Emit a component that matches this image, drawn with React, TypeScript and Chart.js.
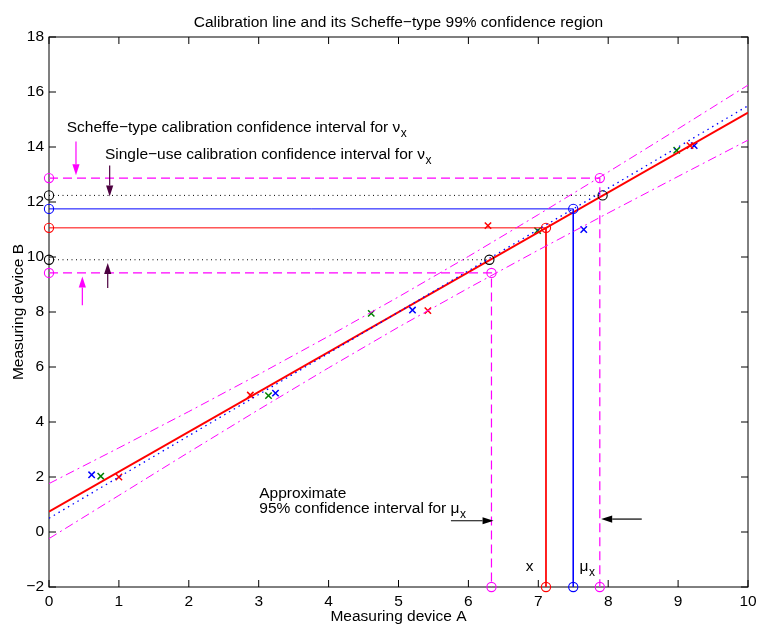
import React, { useEffect, useRef } from 'react';
import { Chart, registerables } from 'chart.js';

Chart.register(...registerables);

const FONT = '"Liberation Sans", Arial, Helvetica, sans-serif';
const FS = 15.5;

// ---------- text ----------
const titleText = 'Calibration line and its Scheffe\u2212type 99% confidence region';
const xLabel = 'Measuring device A';
const yLabel = 'Measuring device B';

// ---------- ticks ----------
const xTicks = [0, 1, 2, 3, 4, 5, 6, 7, 8, 9, 10];
const yTicks = [-2, 0, 2, 4, 6, 8, 10, 12, 14, 16, 18];

// ---------- lines ----------
const fitX = [0, 10];
const fitY = [0.74, 15.25];
const trueX = [0, 10];
const trueY = [0.5, 15.5];

const bandX = [0, 1, 2, 3, 4, 5, 6, 7, 8, 9, 10];
const bandUpper = [1.76, 3.06, 4.38, 5.73, 7.12, 8.55, 10.02, 11.54, 13.09, 14.66, 16.25];
const bandLower = [-0.24, 1.33, 2.9, 4.45, 5.97, 7.45, 8.87, 10.25, 11.6, 12.93, 14.25];

// ---------- measurements ----------
const redX = [1.0, 2.88, 5.42, 6.28, 9.17];
const redY = [2.0, 4.98, 8.05, 11.14, 14.05];
const greenX = [0.74, 3.14, 4.61, 6.99, 8.98];
const greenY = [2.03, 4.96, 7.95, 10.96, 13.88];
const blueX = [0.61, 3.24, 5.2, 7.65, 9.23];
const blueY = [2.08, 5.05, 8.07, 11.0, 14.05];

// ---------- interval construction ----------
const scheffeLevelY = [9.42, 12.87];
const scheffeLevelX = [6.33, 7.88];
const singleLevelY = [9.9, 12.24];
const singleLevelX = [6.3, 7.92];
const observedY = 11.06;
const observedX = 7.11;
const muY = 11.75;
const muX = 7.5;
const X_MIN = 0, X_MAX = 10, Y_MIN = -2, Y_MAX = 18;

// ---------- annotations (data coordinates) ----------
const noteText = [
  'Scheffe\u2212type calibration confidence interval for \u03bd',
  'Single\u2212use calibration confidence interval for \u03bd',
  'Approximate',
  '95% confidence interval for \u03bc',
  'x',
  '\u03bc',
];
const noteSub = ['x', 'x', '', 'x', '', 'x'];
const noteX = [0.253, 0.8, 3.008, 3.008, 6.82, 7.59];
const noteY = [14.56, 13.57, 1.24, 0.68, -1.41, -1.41];

const arrowFromX = [0.386, 0.868, 0.477, 0.84, 5.75, 8.48];
const arrowFromY = [14.2, 13.33, 8.25, 8.87, 0.41, 0.47];
const arrowToX = [0.386, 0.868, 0.477, 0.84, 6.36, 7.9];
const arrowToY = [12.97, 12.2, 9.29, 9.78, 0.41, 0.47];
const arrowColor = ['#ff00ff', '#4d0040', '#ff00ff', '#4d0040', '#000000', '#000000'];

const pts = (xs: number[], ys: number[]) => xs.map((x, i) => ({ x, y: ys[i] }));

const framePlugin = {
  id: 'frame',
  beforeDatasetsDraw(chart: any) {
    const { ctx, chartArea } = chart;
    const { left, top, right, bottom } = chartArea;
    const xs = chart.scales.x;
    const ys = chart.scales.y;
    ctx.save();
    ctx.strokeStyle = '#000';
    ctx.lineWidth = 1;
    ctx.strokeRect(left, top, right - left, bottom - top);
    const tl = 7;
    ctx.beginPath();
    xs.ticks.forEach((t: any) => {
      const p = xs.getPixelForValue(t.value);
      ctx.moveTo(p, bottom);
      ctx.lineTo(p, bottom - tl);
      ctx.moveTo(p, top);
      ctx.lineTo(p, top + tl);
    });
    ys.ticks.forEach((t: any) => {
      const p = ys.getPixelForValue(t.value);
      ctx.moveTo(left, p);
      ctx.lineTo(left + tl, p);
      ctx.moveTo(right, p);
      ctx.lineTo(right - tl, p);
    });
    ctx.stroke();
    ctx.restore();
  },
};

const notesPlugin = {
  id: 'notes',
  afterDatasetsDraw(chart: any) {
    const { ctx } = chart;
    const xs = chart.scales.x;
    const ys = chart.scales.y;
    ctx.save();
    ctx.fillStyle = '#000';
    ctx.textAlign = 'left';
    ctx.textBaseline = 'alphabetic';
    noteText.forEach((txt, i) => {
      const px = xs.getPixelForValue(noteX[i]);
      const py = ys.getPixelForValue(noteY[i]);
      ctx.font = `${FS}px ${FONT}`;
      ctx.fillText(txt, px, py);
      if (noteSub[i]) {
        const w = ctx.measureText(txt).width;
        ctx.font = `12px ${FONT}`;
        ctx.fillText(noteSub[i], px + w + 0.5, py + 5);
      }
    });
    arrowFromX.forEach((_, i) => {
      const x0 = xs.getPixelForValue(arrowFromX[i]);
      const y0 = ys.getPixelForValue(arrowFromY[i]);
      const x1 = xs.getPixelForValue(arrowToX[i]);
      const y1 = ys.getPixelForValue(arrowToY[i]);
      const ang = Math.atan2(y1 - y0, x1 - x0);
      const hl = 11, hw = 3.6;
      ctx.strokeStyle = arrowColor[i];
      ctx.fillStyle = arrowColor[i];
      ctx.lineWidth = 1.2;
      ctx.beginPath();
      ctx.moveTo(x0, y0);
      ctx.lineTo(x1 - Math.cos(ang) * hl, y1 - Math.sin(ang) * hl);
      ctx.stroke();
      ctx.beginPath();
      ctx.moveTo(x1, y1);
      ctx.lineTo(x1 - Math.cos(ang) * hl - Math.sin(ang) * hw, y1 - Math.sin(ang) * hl + Math.cos(ang) * hw);
      ctx.lineTo(x1 - Math.cos(ang) * hl + Math.sin(ang) * hw, y1 - Math.sin(ang) * hl - Math.cos(ang) * hw);
      ctx.closePath();
      ctx.fill();
    });
    ctx.restore();
  },
};

export default function App() {
  const ref = useRef<HTMLCanvasElement | null>(null);

  useEffect(() => {
    if (!ref.current) return;
    const magenta = '#ff00ff';
    const circle = (color: string, dash: number[], width: number, data: any[]) => ({
      data,
      showLine: true,
      borderColor: color,
      borderWidth: width,
      borderDash: dash,
      backgroundColor: 'rgba(0,0,0,0)',
      pointStyle: 'circle',
      pointRadius: 4.6,
      pointBorderWidth: 1.1,
      pointBorderColor: color,
      pointBackgroundColor: 'rgba(0,0,0,0)',
      clip: false,
      tension: 0,
    });
    const line = (color: string, dash: number[], width: number, data: any[]) => ({
      data,
      showLine: true,
      borderColor: color,
      borderWidth: width,
      borderDash: dash,
      pointRadius: 0,
      fill: false,
      tension: 0,
    });
    const marks = (color: string, data: any[]) => ({
      data,
      showLine: false,
      pointStyle: 'crossRot',
      pointRadius: 4.5,
      pointBorderWidth: 1.5,
      pointBorderColor: color,
      borderColor: color,
      backgroundColor: color,
    });

    const chart = new Chart(ref.current, {
      type: 'scatter',
      data: {
        datasets: [
          line('#0000ff', [1.5, 4], 1.3, pts(trueX, trueY)),
          line(magenta, [9, 4, 2, 4], 1, pts(bandX, bandUpper)),
          line(magenta, [9, 4, 2, 4], 1, pts(bandX, bandLower)),
          circle(magenta, [9, 5], 1.2, [
            { x: X_MIN, y: scheffeLevelY[0] },
            { x: scheffeLevelX[0], y: scheffeLevelY[0] },
            { x: scheffeLevelX[0], y: Y_MIN },
          ]),
          circle(magenta, [9, 5], 1.2, [
            { x: X_MIN, y: scheffeLevelY[1] },
            { x: scheffeLevelX[1], y: scheffeLevelY[1] },
            { x: scheffeLevelX[1], y: Y_MIN },
          ]),
          circle('#000000', [1, 3.5], 1, [
            { x: X_MIN, y: singleLevelY[0] },
            { x: singleLevelX[0], y: singleLevelY[0] },
          ]),
          circle('#000000', [1, 3.5], 1, [
            { x: X_MIN, y: singleLevelY[1] },
            { x: singleLevelX[1], y: singleLevelY[1] },
          ]),
          circle('#0000ff', [], 1, [
            { x: X_MIN, y: muY },
            { x: muX, y: muY },
            { x: muX, y: Y_MIN },
          ]),
          circle('#ff0000', [], 1, [
            { x: X_MIN, y: observedY },
            { x: observedX, y: observedY },
            { x: observedX, y: Y_MIN },
          ]),
          line('#ff0000', [], 1.8, pts(fitX, fitY)),
          marks('#ff0000', pts(redX, redY)),
          marks('#008000', pts(greenX, greenY)),
          marks('#0000ff', pts(blueX, blueY)),
        ] as any,
      },
      options: {
        animation: false,
        responsive: false,
        maintainAspectRatio: false,
        events: [],
        layout: { padding: { left: 0, right: 9, top: 0, bottom: 0 } },
        plugins: {
          legend: { display: false },
          tooltip: { enabled: false },
          title: {
            display: true,
            fullSize: false,
            text: titleText,
            color: '#000',
            font: { family: FONT, size: FS, weight: 'normal' },
            padding: { top: 13, bottom: 5.4 },
          },
        },
        scales: {
          x: {
            type: 'linear',
            position: 'bottom',
            min: X_MIN,
            max: X_MAX,
            grid: { display: false, drawTicks: false },
            border: { display: false },
            afterBuildTicks: (s: any) => {
              s.ticks = xTicks.map((v) => ({ value: v }));
            },
            ticks: {
              color: '#000',
              font: { family: FONT, size: FS },
              padding: 5,
              autoSkip: false,
              maxRotation: 0,
              callback: (v: any) => String(v).replace('-', '\u2212'),
            },
            title: {
              display: true,
              text: xLabel,
              color: '#000',
              font: { family: FONT, size: FS },
              padding: { top: 0, bottom: 0 },
            },
            afterFit: (s: any) => {
              s.height = 39;
              s.paddingRight = 0;
              s.paddingLeft = 0;
            },
          },
          y: {
            type: 'linear',
            position: 'left',
            min: Y_MIN,
            max: Y_MAX,
            grid: { display: false, drawTicks: false },
            border: { display: false },
            afterBuildTicks: (s: any) => {
              s.ticks = yTicks.map((v) => ({ value: v }));
            },
            ticks: {
              color: '#000',
              font: { family: FONT, size: FS },
              padding: 5,
              autoSkip: false,
              callback: (v: any) => String(v).replace('-', '\u2212'),
            },
            title: {
              display: true,
              text: yLabel,
              color: '#000',
              font: { family: FONT, size: FS },
              padding: { top: 9, bottom: 0 },
            },
            afterFit: (s: any) => {
              s.width = 49;
              s.paddingTop = 0;
              s.paddingBottom = 0;
            },
          },
        },
      } as any,
      plugins: [framePlugin, notesPlugin],
    });
    return () => chart.destroy();
  }, []);

  return (
    <div style={{ position: 'fixed', left: 0, top: 0, width: 757, height: 626, background: '#fff' }}>
      <canvas ref={ref} width={757} height={626} style={{ width: 757, height: 626, display: 'block' }} />
    </div>
  );
}
